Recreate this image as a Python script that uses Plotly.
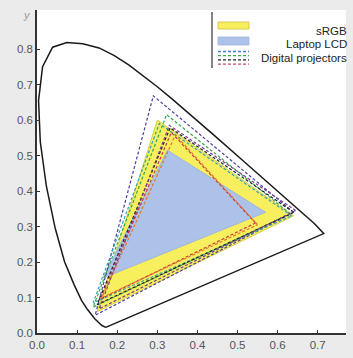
import plotly.graph_objects as go

# ---- data ----
locus_x = [0.1714, 0.1620, 0.1550, 0.1440, 0.1260, 0.1110, 0.0930, 0.0687, 0.0454,
           0.0235, 0.0082, 0.0039, 0.0139, 0.0389, 0.0743, 0.1142, 0.1547, 0.1929,
           0.2296, 0.2658, 0.3016, 0.3373, 0.3731, 0.4441, 0.5125, 0.5752, 0.6270,
           0.6658, 0.6915, 0.7150]
locus_y = [0.0160, 0.0210, 0.0280, 0.0400, 0.0660, 0.0920, 0.1350, 0.2007, 0.2950,
           0.4127, 0.5384, 0.6548, 0.7502, 0.8050, 0.8180, 0.8150, 0.8030, 0.7816,
           0.7543, 0.7243, 0.6923, 0.6589, 0.6245, 0.5547, 0.4866, 0.4242, 0.3725,
           0.3340, 0.3083, 0.2800]

srgb_x = [0.64, 0.30, 0.15]
srgb_y = [0.33, 0.60, 0.06]

lcd_x = [0.57, 0.325, 0.165]
lcd_y = [0.34, 0.515, 0.155]

projector_x = [
    [0.640, 0.290, 0.145],
    [0.632, 0.323, 0.140],
    [0.635, 0.305, 0.140],
    [0.640, 0.332, 0.150],
    [0.645, 0.330, 0.155],
    [0.545, 0.335, 0.158],
    [0.550, 0.345, 0.162],
]
projector_y = [
    [0.340, 0.668, 0.050],
    [0.336, 0.615, 0.073],
    [0.330, 0.590, 0.085],
    [0.340, 0.578, 0.080],
    [0.345, 0.585, 0.068],
    [0.310, 0.565, 0.095],
    [0.305, 0.558, 0.100],
]

x_ticks = [0.0, 0.1, 0.2, 0.3, 0.4, 0.5, 0.6, 0.7]
x_tick_labels = ["0.0", "0.1", "0.2", "0.3", "0.4", "0.5", "0.6", "0.7"]
y_ticks = [0.0, 0.1, 0.2, 0.3, 0.4, 0.5, 0.6, 0.7, 0.8]
y_tick_labels = ["0.0", "0.1", "0.2", "0.3", "0.4", "0.5", "0.6", "0.7", "0.8"]

legend_labels = ["sRGB", "Laptop LCD", "Digital projectors"]

# ---- styles ----
projector_colors = ["#4b3f9e", "#33a84a", "#3a9fb5", "#222222", "#7a3c8c",
                    "#c8384a", "#e07a2a"]
legend_dash_colors = ["#3a7fc0", "#3aa84a", "#222222", "#d04a70"]
FONT = "Liberation Sans, Arial, sans-serif"

W, H = 353, 358
ML, MR, MT, MB = 37, 7, 10, 25
PW, PH = W - ML - MR, H - MT - MB


def px(xp):
    return (xp - ML) / PW


def py(yp):
    return (H - MB - yp) / PH


fig = go.Figure()

fig.add_trace(go.Scatter(
    x=srgb_x + srgb_x[:1], y=srgb_y + srgb_y[:1], mode="lines", fill="toself",
    fillcolor="#f7ef5e", line=dict(color="#d8cf45", width=1), hoverinfo="skip"))
fig.add_trace(go.Scatter(
    x=lcd_x + lcd_x[:1], y=lcd_y + lcd_y[:1], mode="lines", fill="toself",
    fillcolor="#acc2e8", line=dict(color="#9fb6e0", width=1), hoverinfo="skip"))

for xs, ys, c in zip(projector_x, projector_y, projector_colors):
    fig.add_trace(go.Scatter(
        x=xs + xs[:1], y=ys + ys[:1], mode="lines",
        line=dict(color=c, width=1.2, dash="3px,2px"), hoverinfo="skip"))

fig.add_trace(go.Scatter(
    x=locus_x + locus_x[:1], y=locus_y + locus_y[:1], mode="lines",
    line=dict(color="#1a1a1a", width=1.5), hoverinfo="skip"))

shapes = []
# legend frame line
shapes.append(dict(type="line", xref="paper", yref="paper",
                   x0=px(212), x1=px(212), y0=py(12), y1=py(68),
                   line=dict(color="#333333", width=1.2)))
shapes.append(dict(type="rect", xref="paper", yref="paper",
                   x0=px(218), x1=px(249), y0=py(29), y1=py(22),
                   fillcolor="#f7ef5e", line=dict(color="#c9c040", width=0.8)))
shapes.append(dict(type="rect", xref="paper", yref="paper",
                   x0=px(218), x1=px(249), y0=py(45), y1=py(37),
                   fillcolor="#acc2e8", line=dict(color="#9fb6e0", width=0.8)))
for i, c in enumerate(legend_dash_colors):
    yy = 51.5 + i * 4.2
    shapes.append(dict(type="line", xref="paper", yref="paper",
                       x0=px(218), x1=px(249), y0=py(yy), y1=py(yy),
                       line=dict(color=c, width=1.3, dash="3px,2px")))

annotations = []
for lab, yy in zip(legend_labels, [31, 44, 58]):
    annotations.append(dict(text=lab, xref="paper", yref="paper", x=px(349), y=py(yy),
                            xanchor="right", yanchor="middle", showarrow=False,
                            font=dict(family=FONT, size=11.5, color="#222222")))
annotations.append(dict(text="<i>y</i>", xref="paper", yref="paper", x=px(27), y=py(15),
                        xanchor="center", yanchor="middle", showarrow=False,
                        font=dict(family=FONT, size=11, color="#9a9a9a")))

fig.update_layout(
    width=W, height=H,
    margin=dict(l=ML, r=MR, t=MT, b=MB),
    paper_bgcolor="#ebebeb", plot_bgcolor="#ffffff",
    showlegend=False,
    shapes=shapes, annotations=annotations,
    font=dict(family=FONT, size=11.5, color="#555555"),
    xaxis=dict(range=[0, PW / 401.0], tickvals=x_ticks, ticktext=x_tick_labels,
               showgrid=False, zeroline=False, showline=True, linecolor="#333333",
               linewidth=1.5, ticks="inside", ticklen=3, tickcolor="#333333",
               fixedrange=True),
    yaxis=dict(range=[0, PH / 355.0], tickvals=y_ticks, ticktext=y_tick_labels,
               showgrid=False, zeroline=False, showline=True, linecolor="#333333",
               linewidth=1.5, ticks="inside", ticklen=3, tickcolor="#333333",
               fixedrange=True),
)

fig.write_html("out.html", config={"displayModeBar": False},
               post_script="document.body.style.margin='0';document.body.style.overflow='hidden';")
